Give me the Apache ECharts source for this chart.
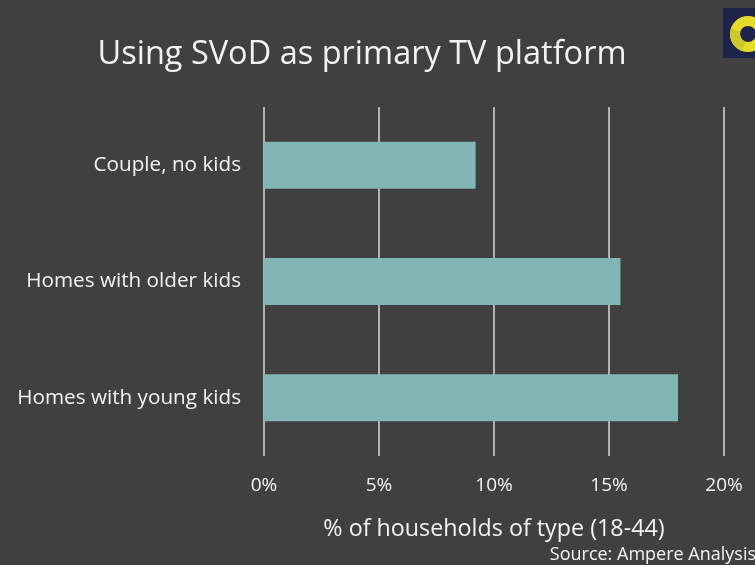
<!DOCTYPE html>
<html>
<head>
<meta charset="utf-8">
<style>
  html, body { margin: 0; padding: 0; background: #404040; }
  #chart { width: 755px; height: 565px; }
</style>
<script src="https://cdn.jsdelivr.net/npm/echarts@6/dist/echarts.min.js"></script>
</head>
<body>
<div id="chart"></div>
<script>
// Household types, listed bottom to top as the category axis draws them
const categories = ['Homes with young kids', 'Homes with older kids', 'Couple, no kids'];
// Share of households of each type using SVoD as primary TV platform (%)
const shares = [18.0, 15.5, 9.2];
// Value axis ticks (%)
const tickValues = [0, 5, 10, 15, 20];

const FONT = '"Open Sans", "Noto Sans", sans-serif';
const TEXT = '#f2f2f2';

const chart = echarts.init(document.getElementById('chart'), null, { renderer: 'canvas' });

chart.setOption({
  backgroundColor: '#404040',
  animation: false,
  title: {
    text: 'Using SVoD as primary TV platform',
    left: 357, top: 33, textAlign: 'center',
    textStyle: { color: TEXT, fontFamily: FONT, fontSize: 32.5, fontWeight: 'normal' }
  },
  grid: { left: 264, right: 31, top: 107, bottom: 109, containLabel: false },
  xAxis: {
    type: 'value',
    min: tickValues[0], max: tickValues[tickValues.length - 1], interval: 5,
    axisLine: { show: false },
    axisTick: { show: false },
    splitLine: { show: true, lineStyle: { color: '#d9d9d9', width: 1.5 } },
    axisLabel: {
      color: TEXT, fontFamily: FONT, fontSize: 19, margin: 20,
      formatter: v => v + '%'
    },
    name: '% of households of type (18-44)',
    nameLocation: 'middle', nameGap: 62,
    nameTextStyle: { color: TEXT, fontFamily: FONT, fontSize: 23.3 }
  },
  yAxis: {
    type: 'category',
    data: categories,
    axisLine: { show: false },
    axisTick: { show: false },
    axisLabel: { color: TEXT, fontFamily: FONT, fontSize: 20.7, margin: 23 }
  },
  series: [{
    type: 'bar',
    data: shares,
    barWidth: 47,
    itemStyle: { color: '#82b6b5' }
  }],
  graphic: [
    {
      type: 'text', right: -1, top: 546,
      style: { text: 'Source: Ampere Analysis', fill: TEXT, font: '18px ' + FONT }
    },
    {
      // brand badge in the corner
      type: 'group', left: 723, top: 8,
      children: [
        { type: 'rect', shape: { x: 0, y: 0, width: 40, height: 50 }, style: { fill: '#1e2348' } },
        { type: 'ring', shape: { cx: 25, cy: 26, r: 18, r0: 8 }, style: { fill: '#e5dc2a' } },
        { type: 'sector', shape: { cx: 25, cy: 26, r: 18, r0: 8, startAngle: Math.PI * 0.6, endAngle: Math.PI * 1.1 }, style: { fill: '#cfc629' } }
      ]
    }
  ]
});
</script>
</body>
</html>
